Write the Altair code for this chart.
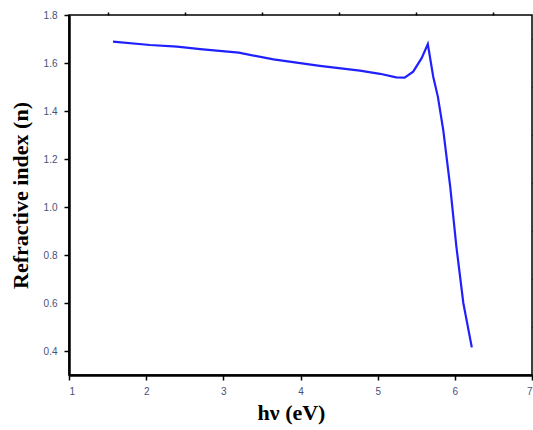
import altair as alt
import pandas as pd

# Photon energy (eV) and refractive index n
energy = [1.57, 2.05, 2.40, 2.70, 3.20, 3.65, 4.25, 4.77, 5.03, 5.24, 5.35,
          5.46, 5.57, 5.65, 5.72, 5.78, 5.85, 5.94, 6.02, 6.11, 6.22]
n_index = [1.689, 1.675, 1.668, 1.658, 1.643, 1.615, 1.588, 1.568, 1.555, 1.540, 1.539,
           1.564, 1.620, 1.679, 1.543, 1.460, 1.320, 1.085, 0.835, 0.600, 0.415]

x_major = [1, 2, 3, 4, 5, 6, 7]
x_minor = [1.5, 2.5, 3.5, 4.5, 5.5, 6.5]
y_major = [0.4, 0.6, 0.8, 1.0, 1.2, 1.4, 1.6, 1.8]
y_minor = [0.3, 0.5, 0.7, 0.9, 1.1, 1.3, 1.5, 1.7]

df = pd.DataFrame({"E": energy, "n": n_index})

xs = alt.Scale(domain=[1, 7], nice=False, zero=False)
ys = alt.Scale(domain=[0.3, 1.8], nice=False, zero=False)

label_color = "#4a5078"

curve = alt.Chart(df).mark_line(color="#2020ff", strokeWidth=2.2).encode(
    x=alt.X("E:Q", scale=xs, axis=alt.Axis(
        values=x_major, format="d", title="hν (eV)", tickSize=5, tickWidth=1.5,
        tickColor="black", domainColor="black", domainWidth=2.5,
        labelFont="Liberation Sans", labelFontSize=10, labelColor=label_color,
        labelPadding=6, titleFont="Liberation Serif", titleFontSize=22,
        titleFontWeight="bold", titleColor="black", titlePadding=6,
        titleX=222, grid=False)),
    y=alt.Y("n:Q", scale=ys, axis=alt.Axis(
        values=y_major, format=".1f", title="Refractive index (n)", tickSize=5,
        tickWidth=1.5, tickColor="black", domainColor="black", domainWidth=2.5,
        labelFont="Liberation Sans", labelFontSize=10, labelColor=label_color,
        labelPadding=7, titleFont="Liberation Serif", titleFontSize=22,
        titleFontWeight="bold", titleColor="black", titlePadding=11,
        grid=False)),
)

minor = alt.Chart(df).mark_line(opacity=0).encode(
    x=alt.X("E:Q", scale=xs, axis=alt.Axis(
        values=x_minor, labels=False, title=None, tickSize=3, tickWidth=1.5,
        tickColor="black", domain=False, grid=False)),
    y=alt.Y("n:Q", scale=ys, axis=alt.Axis(
        values=y_minor, labels=False, title=None, tickSize=3, tickWidth=1.5,
        tickColor="black", domain=False, grid=False)),
)

chart = alt.layer(curve, minor).resolve_axis(
    x="independent", y="independent"
).properties(
    width=463, height=360,
    autosize=alt.AutoSizeParams(type="none"),
    padding={"left": 69, "top": 15, "right": 1, "bottom": 55},
    background="white",
).configure_view(stroke="black", strokeWidth=1.5)

chart.save("out.html", embed_options={"renderer": "svg", "actions": False})
